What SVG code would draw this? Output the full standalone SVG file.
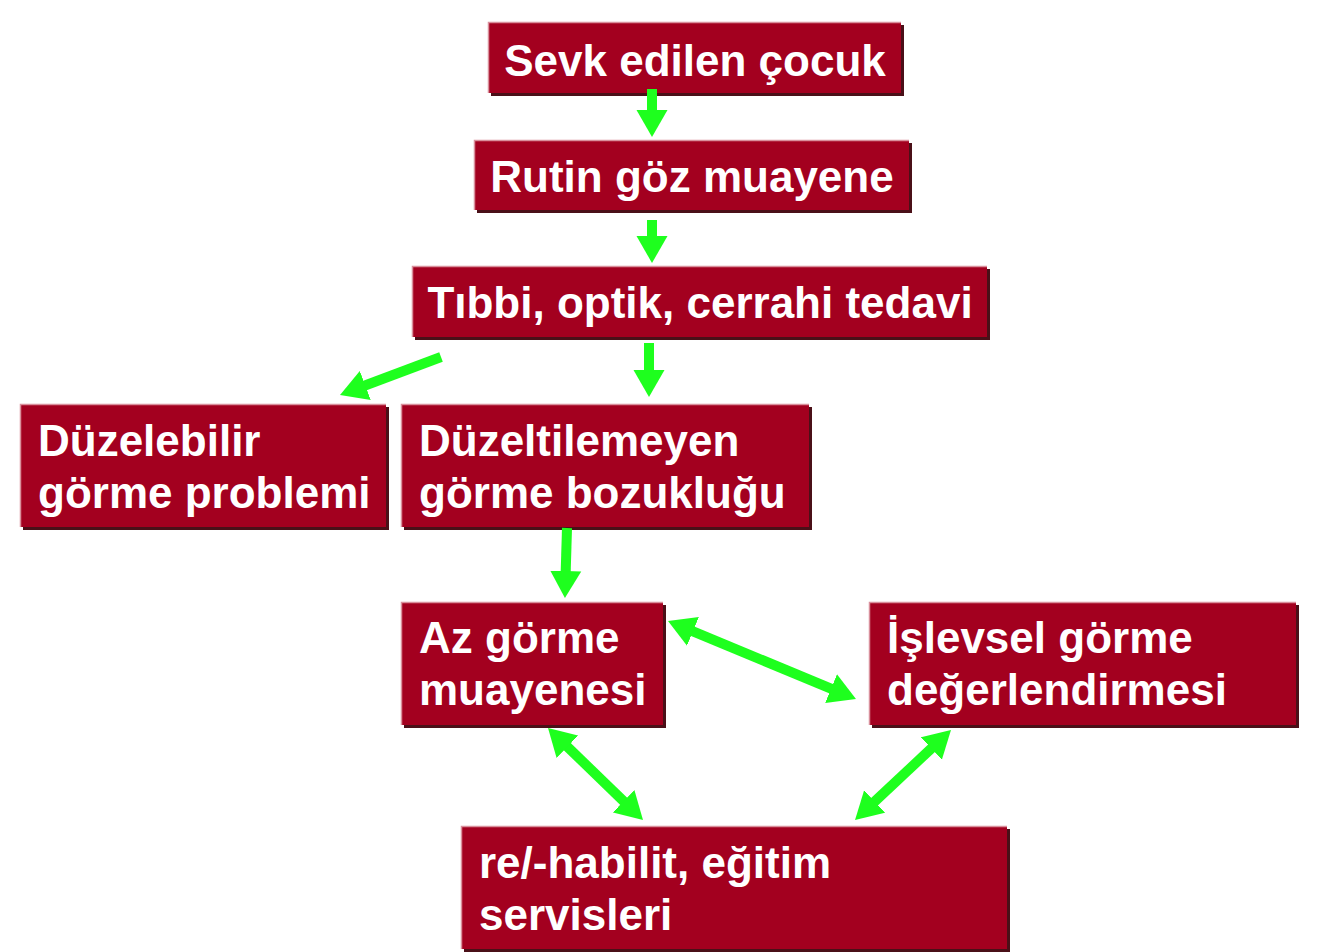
<svg xmlns="http://www.w3.org/2000/svg" width="1320" height="952" viewBox="0 0 1320 952">
<style>
.sh{fill:#4a1018}
.bx{fill:#A3001F}
.hl{fill:none;stroke:#d9909c;stroke-width:1.5}
.t{font-family:"Liberation Sans",Arial,sans-serif;font-weight:bold;font-size:44px;fill:#ffffff}
.c{stroke:#1eff1e;stroke-width:10;fill:none}
</style>
<defs>
<marker id="ah" markerUnits="userSpaceOnUse" markerWidth="27" markerHeight="32" viewBox="0 0 27 32" refX="11" refY="16" orient="auto-start-reverse">
<path d="M0,0.5 L27,16 L0,31.5 z" fill="#1eff1e"/>
</marker>
</defs>
<rect width="1320" height="952" fill="#ffffff"/>
<g id="n1">
<rect class="sh" x="491" y="25" width="413" height="71"/>
<rect class="bx" x="488" y="22" width="413" height="71"/>
<path class="hl" d="M488.5,93 V22.5 H901"/>
<text class="t" x="695" y="76" text-anchor="middle">Sevk edilen çocuk</text>
</g>
<g id="n2">
<rect class="sh" x="477" y="143" width="435" height="70"/>
<rect class="bx" x="474" y="140" width="435" height="70"/>
<path class="hl" d="M474.5,210 V140.5 H909"/>
<text class="t" x="692" y="192" text-anchor="middle">Rutin göz muayene</text>
</g>
<g id="n3">
<rect class="sh" x="415" y="269" width="575" height="71"/>
<rect class="bx" x="412" y="266" width="575" height="71"/>
<path class="hl" d="M412.5,337 V266.5 H987"/>
<text class="t" x="700" y="318" text-anchor="middle">Tıbbi, optik, cerrahi tedavi</text>
</g>
<g id="n4">
<rect class="sh" x="23" y="407" width="366" height="123"/>
<rect class="bx" x="20" y="404" width="366" height="123"/>
<path class="hl" d="M20.5,527 V404.5 H386"/>
<text class="t" x="38" y="456">Düzelebilir</text>
<text class="t" x="38" y="508">görme problemi</text>
</g>
<g id="n5">
<rect class="sh" x="404" y="407" width="408" height="123"/>
<rect class="bx" x="401" y="404" width="408" height="123"/>
<path class="hl" d="M401.5,527 V404.5 H809"/>
<text class="t" x="419" y="456">Düzeltilemeyen</text>
<text class="t" x="419" y="508">görme bozukluğu</text>
</g>
<g id="n6">
<rect class="sh" x="404" y="605" width="262" height="123"/>
<rect class="bx" x="401" y="602" width="262" height="123"/>
<path class="hl" d="M401.5,725 V602.5 H663"/>
<text class="t" x="419" y="653">Az görme</text>
<text class="t" x="419" y="705">muayenesi</text>
</g>
<g id="n7">
<rect class="sh" x="872" y="605" width="427" height="123"/>
<rect class="bx" x="869" y="602" width="427" height="123"/>
<path class="hl" d="M869.5,725 V602.5 H1296"/>
<text class="t" x="887" y="653">İşlevsel görme</text>
<text class="t" x="887" y="705">değerlendirmesi</text>
</g>
<g id="n8">
<rect class="sh" x="464" y="829" width="546" height="123"/>
<rect class="bx" x="461" y="826" width="546" height="123"/>
<path class="hl" d="M461.5,949 V826.5 H1007"/>
<text class="t" x="479" y="878">re/-habilit, eğitim</text>
<text class="t" x="479" y="930">servisleri</text>
</g>
<g id="connectors">
<line class="c" x1="652" y1="89" x2="652" y2="121" marker-end="url(#ah)"/>
<line class="c" x1="652" y1="220" x2="652" y2="247" marker-end="url(#ah)"/>
<line class="c" x1="649" y1="343" x2="649" y2="381" marker-end="url(#ah)"/>
<line class="c" x1="441" y1="357" x2="355" y2="389.3" marker-end="url(#ah)"/>
<line class="c" x1="567" y1="528" x2="565.4" y2="582" marker-end="url(#ah)"/>
<line class="c" x1="682.8" y1="627.1" x2="841.2" y2="692.9" marker-start="url(#ah)" marker-end="url(#ah)"/>
<line class="c" x1="559.5" y1="739.1" x2="631.5" y2="808.9" marker-start="url(#ah)" marker-end="url(#ah)"/>
<line class="c" x1="939.3" y1="741" x2="866.7" y2="809" marker-start="url(#ah)" marker-end="url(#ah)"/>
</g>
</svg>
